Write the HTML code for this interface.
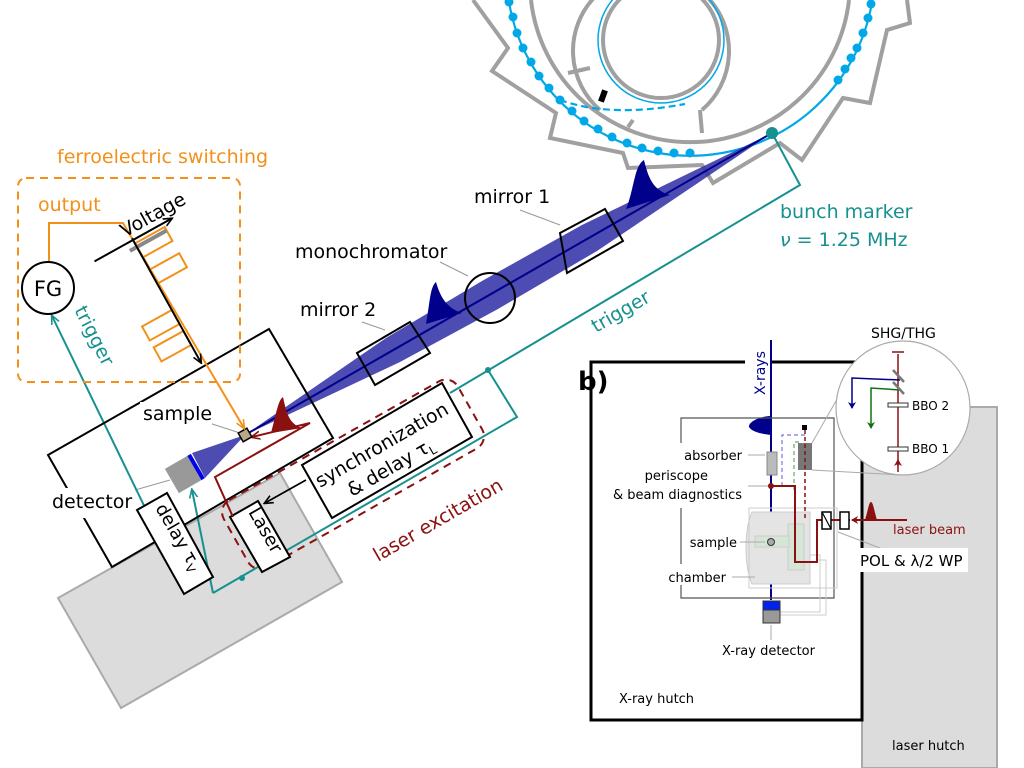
<!DOCTYPE html>
<html><head><meta charset="utf-8"><style>
html,body{margin:0;padding:0;background:#fff;}
svg{display:block;}
text{font-family:"DejaVu Sans","Liberation Sans",sans-serif;}
</style></head><body>
<svg width="1024" height="768" viewBox="0 0 1024 768" xmlns="http://www.w3.org/2000/svg">
<defs>
<marker id="ab" markerWidth="10" markerHeight="10" refX="8" refY="5" orient="auto" markerUnits="userSpaceOnUse"><path d="M0,1 L9,5 L0,9" fill="none" stroke="#000" stroke-width="1.6"/></marker>
<marker id="at" markerWidth="10" markerHeight="10" refX="8" refY="5" orient="auto" markerUnits="userSpaceOnUse"><path d="M0,1 L9,5 L0,9" fill="none" stroke="#17918f" stroke-width="1.6"/></marker>
<marker id="ao" markerWidth="10" markerHeight="10" refX="8" refY="5" orient="auto" markerUnits="userSpaceOnUse"><path d="M0,1 L9,5 L0,9" fill="none" stroke="#f39019" stroke-width="1.6"/></marker>
<marker id="ar" markerWidth="10" markerHeight="10" refX="8" refY="5" orient="auto" markerUnits="userSpaceOnUse"><path d="M0,1 L9,5 L0,9" fill="none" stroke="#8b1010" stroke-width="1.6"/></marker>
<marker id="arb" markerWidth="8" markerHeight="8" refX="6" refY="4" orient="auto" markerUnits="userSpaceOnUse"><path d="M0,0 L7,4 L0,8 L2,4Z" fill="#00008b"/></marker>
<marker id="arg" markerWidth="8" markerHeight="8" refX="6" refY="4" orient="auto" markerUnits="userSpaceOnUse"><path d="M0,0 L7,4 L0,8 L2,4Z" fill="#107010"/></marker>
<marker id="arr" markerWidth="8" markerHeight="8" refX="6" refY="4" orient="auto" markerUnits="userSpaceOnUse"><path d="M0,0 L7,4 L0,8 L2,4Z" fill="#8b1010"/></marker>
</defs>

<!-- storage ring -->
<g fill="none" stroke="#a0a0a0" stroke-width="4">
<polyline points="473,0 508,48 492,71 556,113 550,138 623,153 628,168 702,165 713,183 780,143 802,160 843,98 870,103 887,30 910,23 907,0"/>
<path d="M531,0 A160,160 0 0 0 849,0"/>
<path d="M568,73 L590,68"/>
<path d="M628,127 L633,120"/>
<path d="M700,110 L702,133"/>
<path d="M600,110 A78,78 0 1 1 702,110"/>
<circle cx="661" cy="40" r="58"/>
</g>
<g fill="none" stroke="#00a8e8" stroke-width="2.2">
<path d="M509,2 A184,184 0 0 0 872,2"/>
<circle cx="661" cy="40" r="63" stroke-width="1.5"/>
<path d="M560,100 Q610,118 685,104" stroke-dasharray="7,4"/>
</g>
<g fill="#00a8e8">
<circle cx="509" cy="2" r="4.5"/><circle cx="513" cy="17" r="4.5"/><circle cx="517" cy="33" r="4.5"/><circle cx="523" cy="48" r="4.5"/><circle cx="531" cy="62" r="4.5"/><circle cx="539" cy="76" r="4.5"/><circle cx="549" cy="88" r="4.5"/><circle cx="560" cy="100" r="4.5"/><circle cx="572" cy="111" r="4.5"/><circle cx="584" cy="121" r="4.5"/><circle cx="598" cy="129" r="4.5"/><circle cx="612" cy="137" r="4.5"/><circle cx="627" cy="143" r="4.5"/><circle cx="642" cy="148" r="4.5"/><circle cx="658" cy="151" r="4.5"/><circle cx="674" cy="153" r="4.5"/><circle cx="690" cy="153" r="4.5"/>
<circle cx="838" cy="80" r="4.5"/><circle cx="845" cy="69" r="4.5"/><circle cx="851" cy="58" r="4.5"/><circle cx="857" cy="48" r="4.5"/><circle cx="863" cy="33" r="4.5"/><circle cx="868" cy="18" r="4.5"/><circle cx="871" cy="4" r="4.5"/>
</g>
<rect x="600" y="90" width="6" height="12" fill="#000" transform="rotate(20 603 96)"/>

<!-- gray stage background -->
<polygon points="58,598 280,473 342,582 121,708" fill="#dcdcdc" stroke="#aaa" stroke-width="2"/>

<!-- beam -->
<polygon points="772,133 582,225 482,281 386,338 245,435 400,362 498,309 597,251" fill="#3333a8" opacity="0.88"/>
<polygon points="245,435 192,453 205,478" fill="#3333a8" opacity="0.88"/>
<line x1="772" y1="133" x2="245" y2="435" stroke="#00008b" stroke-width="2"/>
<path d="M626,209 C634,190 634,166 644,160 C648,176 652,190 670,195 Z" fill="#00008b"/>
<path d="M426,324 C430,302 430,287 436,282 C440,296 446,308 462,313 Z" fill="#00008b"/>

<!-- optics -->
<g fill="none" stroke="#000" stroke-width="2">
<polygon points="560,233 605,209 623,241 567,273"/>
<polygon points="357,353 410,322 430,353 375,385"/>
<circle cx="490" cy="298" r="25"/>
</g>
<g stroke="#999" stroke-width="1">
<line x1="520" y1="210" x2="560" y2="225"/>
<line x1="440" y1="262" x2="468" y2="276"/>
<line x1="362" y1="322" x2="385" y2="330"/>
<line x1="200" y1="420" x2="240" y2="433"/>
<line x1="135" y1="490" x2="170" y2="480"/>
</g>
<text x="474" y="203" font-size="19">mirror 1</text>
<text x="295" y="258" font-size="19">monochromator</text>
<text x="300" y="316" font-size="19">mirror 2</text>

<!-- bunch marker / trigger teal -->
<g fill="none" stroke="#17918f" stroke-width="2">
<polyline points="772,133 800,185 450,393"/>
<polyline points="488,370 517,417 213,593"/>
<line x1="213" y1="593" x2="192" y2="490" marker-end="url(#at)"/>
<line x1="185" y1="590" x2="52" y2="316" marker-end="url(#at)"/>
</g>
<circle cx="772" cy="133" r="6" fill="#17918f"/>
<circle cx="488" cy="370" r="3" fill="#17918f"/>
<circle cx="242" cy="578" r="3" fill="#17918f"/>
<text x="780" y="218" font-size="19" fill="#17918f">bunch marker</text>
<text x="780" y="246" font-size="19" fill="#17918f"><tspan font-style="italic">ν</tspan> = 1.25 MHz</text>
<text transform="translate(596,333) rotate(-30)" font-size="19" fill="#17918f">trigger</text>
<text transform="translate(74,310) rotate(63)" font-size="19" fill="#17918f">trigger</text>

<!-- chamber box -->
<polygon points="48,455 269,329 333,438 112,567" fill="none" stroke="#000" stroke-width="2"/>
<rect x="50" y="488" width="82" height="30" fill="#fff"/>
<text x="52" y="508" font-size="19">detector</text>
<rect x="140" y="402" width="72" height="26" fill="#fff"/>
<text x="143" y="420" font-size="19">sample</text>

<!-- laser excitation dashed -->
<rect x="0" y="0" width="269" height="77" rx="14" fill="none" stroke="#8b1010" stroke-width="2" stroke-dasharray="8,6" transform="translate(217,507) rotate(-29.5)"/>

<!-- sync box, laser, delay -->
<polygon points="302,465 442,383 472,437 332,518" fill="#fff" stroke="#000" stroke-width="2"/>
<text transform="translate(320,488) rotate(-30)" font-size="19">synchronization</text>
<text transform="translate(352,497) rotate(-30)" font-size="19">&amp; delay τ<tspan font-size="12" dy="4">L</tspan></text>
<polygon points="230,517 258,501 290,557 262,572" fill="#fff" stroke="#000" stroke-width="2"/>
<text transform="translate(248,512) rotate(60)" font-size="18">Laser</text>
<polygon points="137,510 167,493 213,577 184,594" fill="#fff" stroke="#000" stroke-width="2"/>
<text transform="translate(155,508) rotate(60)" font-size="18">delay τ<tspan font-size="12" dy="4">V</tspan></text>
<line x1="306" y1="480" x2="265" y2="503" stroke="#000" stroke-width="1.8" marker-end="url(#ab)"/>

<!-- laser path -->
<polyline points="233,517 215,477 310,423 252,437" fill="none" stroke="#8b1010" stroke-width="2" marker-end="url(#ar)"/>
<path d="M271,433 C276,415 278,400 283,397 C286,410 288,424 302,428 Z" fill="#8b1010"/>
<text transform="translate(378,562) rotate(-30)" font-size="19" fill="#8b1010">laser excitation</text>

<!-- detector & sample -->
<g transform="rotate(-30 184 474)"><rect x="170" y="460" width="28" height="28" fill="#999"/><rect x="196" y="460" width="4" height="28" fill="#0000ee"/></g>
<rect x="240" y="430" width="10" height="10" fill="#b8a88a" stroke="#000" stroke-width="1.5" transform="rotate(-30 245 435)"/>

<!-- ferroelectric switching -->
<text x="57" y="163" font-size="19" fill="#f39019">ferroelectric switching</text>
<rect x="18" y="178" width="222" height="204" rx="8" fill="none" stroke="#f39019" stroke-width="2" stroke-dasharray="8,6"/>
<text x="38" y="211" font-size="19" fill="#f39019">output</text>
<polyline points="49,262 49,223 123,223 212,374" fill="none" stroke="#f39019" stroke-width="2"/>
<line x1="212" y1="374" x2="244" y2="428" stroke="#f39019" stroke-width="2" marker-end="url(#ao)"/>
<circle cx="48" cy="288" r="26" fill="#fff" stroke="#000" stroke-width="2"/>
<text x="48" y="296" font-size="21" text-anchor="middle">FG</text>
<g transform="translate(133,240) rotate(-29)">
<g fill="none" stroke="#f39019" stroke-width="2">
<rect x="0" y="4" width="34" height="16"/>
<rect x="0" y="34" width="34" height="16"/>
<rect x="-34" y="80" width="34" height="16"/>
<rect x="-34" y="104" width="34" height="16"/>
</g>
<line x1="-8" y1="8" x2="34" y2="8" stroke="#888" stroke-width="4"/>
<line x1="-44" y1="0" x2="44" y2="0" stroke="#000" stroke-width="2" marker-end="url(#ab)"/>
<line x1="0" y1="-2" x2="0" y2="140" stroke="#000" stroke-width="2" marker-end="url(#ab)"/>
<text x="-6" y="-6" font-size="19">Voltage</text>
</g>

<!-- part b -->
<text x="578" y="390" font-size="26" font-weight="bold">b)</text>
<rect x="862" y="407" width="135" height="361" fill="#dcdcdc" stroke="#aaa" stroke-width="2"/>
<polyline points="745,362 591,362 591,720 862,720 862,362 772,362" fill="none" stroke="#000" stroke-width="3"/>
<line x1="771" y1="340" x2="771" y2="600" stroke="#00008b" stroke-width="2"/>
<text transform="translate(765,395) rotate(-90)" font-size="14" fill="#00008b">X-rays</text>
<path d="M771,416 C760,416 748,422 749,427 C752,432 762,434 771,435 Z" fill="#00008b"/>
<polyline points="681,443 681,418 834,418 834,598 681,598 681,585" fill="none" stroke="#555" stroke-width="1.2"/>
<line x1="681" y1="508" x2="681" y2="564" stroke="#555" stroke-width="1.2"/>
<g fill="#e4e4e4" stroke="#ccc" stroke-width="1">
<path d="M752,512 L810,512 L810,584 L752,584 C744,565 744,530 752,512Z"/>
<rect x="749" y="508" width="88" height="80" fill="none"/>
<rect x="788" y="524" width="16" height="46" fill="#d6e6d6"/>
<rect x="755" y="536" width="34" height="11" fill="#d6e6d6"/>
</g>
<polyline points="810,555 820,555 820,612 780,612" fill="none" stroke="#ccc"/>
<polyline points="816,560 826,560 826,615 780,615" fill="none" stroke="#ccc"/>
<rect x="767" y="452" width="10" height="23" fill="#bbb" stroke="#888"/>
<rect x="798" y="443" width="14" height="27" fill="#777"/>
<rect x="802" y="425" width="5" height="5" fill="#000"/>
<polyline points="782,486 782,435 805,435" fill="none" stroke="#7777dd" stroke-dasharray="4,3" stroke-width="1.2"/>
<polyline points="794,490 794,442 800,442" fill="none" stroke="#66aa66" stroke-dasharray="4,3" stroke-width="1.2"/>
<line x1="805" y1="430" x2="805" y2="520" stroke="#8b1010" stroke-dasharray="4,3" stroke-width="1.5"/>
<polyline points="771,486 795,486 795,562 817,562 817,520 850,520" fill="none" stroke="#8b1010" stroke-width="2"/>
<line x1="907" y1="520" x2="852" y2="520" stroke="#8b1010" stroke-width="2" marker-end="url(#arr)"/>
<path d="M865,520 C868,510 869,502 871,502 C873,502 874,510 877,520Z" fill="#8b1010"/>
<circle cx="771" cy="486" r="3" fill="#8b1010"/>
<rect x="822" y="512" width="9" height="17" fill="#fff" stroke="#000" stroke-width="1.5"/>
<line x1="822" y1="512" x2="831" y2="529" stroke="#000" stroke-width="1.2"/>
<rect x="840" y="512" width="9" height="17" fill="#fff" stroke="#000" stroke-width="1.5"/>
<circle cx="771" cy="542" r="3.5" fill="#aaa" stroke="#333"/>
<rect x="763" y="601" width="17" height="10" fill="#0022ee" stroke="#333"/>
<rect x="763" y="610" width="17" height="13" fill="#999" stroke="#333"/>
<g stroke="#aaa" stroke-width="1">
<line x1="748" y1="455" x2="765" y2="455"/><line x1="748" y1="486" x2="768" y2="486"/>
<line x1="740" y1="542" x2="765" y2="542"/><line x1="732" y1="577" x2="755" y2="577"/>
<line x1="771" y1="625" x2="771" y2="640"/><line x1="838" y1="532" x2="880" y2="548"/>
<line x1="812" y1="470" x2="900" y2="475"/><line x1="812" y1="443" x2="848" y2="380"/>
</g>
<g font-size="13" text-anchor="end">
<text x="742" y="460">absorber</text><text x="708" y="480">periscope</text><text x="742" y="499">&amp; beam diagnostics</text>
<text x="737" y="547">sample</text><text x="726" y="582">chamber</text>
</g>
<text x="722" y="655" font-size="13">X-ray detector</text>
<text x="619" y="703" font-size="13">X-ray hutch</text>
<text x="892" y="750" font-size="13">laser hutch</text>
<text x="893" y="534" font-size="13" fill="#8b1010">laser beam</text>
<rect x="858" y="548" width="110" height="24" fill="#fff"/>
<text x="860" y="566" font-size="15">POL &amp; λ/2 WP</text>
<text x="871" y="338" font-size="14">SHG/THG</text>
<circle cx="903" cy="408" r="67" fill="#fff" stroke="#aaa" stroke-width="1.2"/>
<line x1="898" y1="472" x2="898" y2="354" stroke="#8b1010" stroke-width="1.5"/>
<line x1="898" y1="466" x2="898" y2="460" stroke="#8b1010" stroke-width="1.5" marker-end="url(#arr)"/>
<line x1="892" y1="352" x2="904" y2="352" stroke="#8b1010" stroke-width="1.5"/>
<polyline points="900,380 852,378 852,408" fill="none" stroke="#00008b" stroke-width="1.5" marker-end="url(#arb)"/>
<polyline points="900,390 871,388 871,428" fill="none" stroke="#107010" stroke-width="1.5" marker-end="url(#arg)"/>
<line x1="893" y1="370" x2="904" y2="382" stroke="#777" stroke-width="2.5"/>
<line x1="893" y1="382" x2="904" y2="394" stroke="#777" stroke-width="2.5"/>
<rect x="888" y="403" width="20" height="4" fill="#fff" stroke="#333"/>
<rect x="888" y="447" width="20" height="4" fill="#fff" stroke="#333"/>
<text x="912" y="410" font-size="12">BBO 2</text>
<text x="912" y="453" font-size="12">BBO 1</text>
</svg>
</body></html>
